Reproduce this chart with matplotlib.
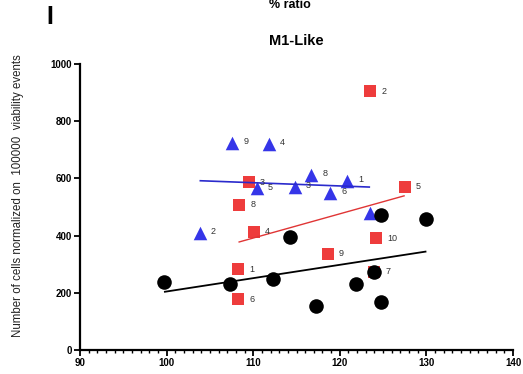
import numpy as np
import matplotlib
matplotlib.use("Agg")
import matplotlib.pyplot as plt
from matplotlib.ticker import MultipleLocator

plt.rcParams['font.family'] = ['Liberation Sans', 'DejaVu Sans']

# data
circle_x = [99.7, 107.3, 112.3, 114.3, 117.2, 121.9, 123.9, 124.7, 124.8, 130.0]
circle_y = [238, 230, 247, 396, 155, 231, 272, 169, 472, 457]

square_x = [123.5, 109.5, 108.4, 110.1, 127.5, 124.2, 118.6, 124.0, 108.3, 108.3]
square_y = [905, 586, 507, 414, 571, 390, 336, 274, 283, 177]
square_labels = ["2", "3", "8", "4", "5", "10", "9", "7", "1", "6"]

tri_x = [107.6, 111.8, 110.4, 103.8, 116.7, 114.8, 120.8, 118.9, 123.5]
tri_y = [725, 720, 565, 408, 612, 571, 592, 548, 480]
tri_labels = ["9", "4", "5", "2", "8", "3", "1", "6", ""]

x_ticks = [90, 100, 110, 120, 130, 140]
y_ticks = [0, 200, 400, 600, 800, 1000]

fig = plt.figure(figsize=(5.23, 3.74), dpi=100)
ax = fig.add_axes([80/523, 24/374, 433/523, 286/374])

def fit_line(xs, ys, color, lw):
    xs = np.asarray(xs, float); ys = np.asarray(ys, float)
    m, b = np.polyfit(xs, ys, 1)
    xx = np.array([xs.min(), xs.max()])
    ax.plot(xx, m*xx + b, color=color, lw=lw, zorder=4, solid_capstyle='butt')

ax.scatter(tri_x, tri_y, marker='^', s=95, color='#3535E8', linewidths=0, zorder=2)
ax.scatter(square_x, square_y, marker='s', s=85, color='#EE3C3C', linewidths=0, zorder=3)
ax.scatter(circle_x, circle_y, marker='o', s=110, color='black', linewidths=0, zorder=5)

fit_line(circle_x, circle_y, 'black', 1.3)
fit_line(square_x, square_y, '#E03535', 1.0)
fit_line(tri_x, tri_y, '#2A2ACC', 1.2)

for x, y, t in zip(square_x, square_y, square_labels):
    ax.annotate(t, (x, y), xytext=(8, 0), textcoords='offset points',
                fontsize=6.5, color='#333333', va='center', ha='left', zorder=6)
for x, y, t in zip(tri_x, tri_y, tri_labels):
    ax.annotate(t, (x, y), xytext=(8, 1), textcoords='offset points',
                fontsize=6.5, color='#333333', va='center', ha='left', zorder=6)

ax.set_xlim(90, 140)
ax.set_ylim(0, 1000)
ax.set_xticks(x_ticks)
ax.set_yticks(y_ticks)
ax.xaxis.set_minor_locator(MultipleLocator(1))
for s in ['top', 'right']:
    ax.spines[s].set_visible(False)
for s in ['left', 'bottom']:
    ax.spines[s].set_linewidth(1.6)
ax.tick_params(axis='both', which='major', length=4, width=1.3, labelsize=7, pad=2)
ax.tick_params(axis='x', which='minor', length=2.5, width=1.0)
for lab in ax.get_xticklabels() + ax.get_yticklabels():
    lab.set_fontweight('bold')

ax.set_ylabel('Number of cells normalized on  100000  viability events',
              fontsize=8.3, color='#222222')
ax.yaxis.set_label_coords(-0.13, 0.54)

fig.text(296/523, 1 - 41/374, 'M1-Like', ha='center', va='center',
         fontsize=10.5, fontweight='bold')
fig.text(290/523, 1 - 5/374, '% ratio', ha='center', va='center',
         fontsize=9, fontweight='bold')
fig.text(50/523, 1 - 17/374, 'I', ha='center', va='center',
         fontsize=18, fontweight='bold')

fig.savefig('out.png', dpi=100)
